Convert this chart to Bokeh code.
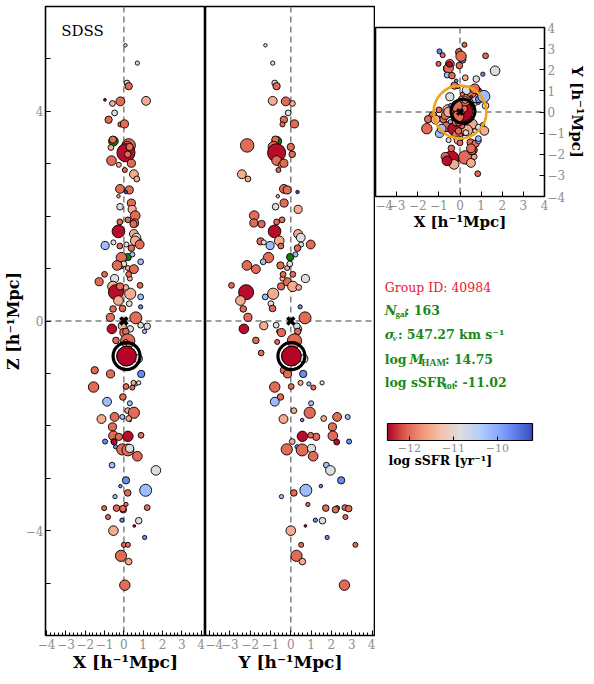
import numpy as np
from bokeh.plotting import figure
from bokeh.layouts import row, column
from bokeh.models import (Range1d, FixedTicker, Span, LinearColorMapper, ColorBar,
                          ColumnDataSource, CustomJSTickFormatter, Label)
from bokeh.core.properties import value
from bokeh.embed import file_html
from bokeh.resources import INLINE

NaN = float("nan")

# ---------------- data ----------------
gal_x = [0.08, 0.70, 0.16, 0.25, -0.98, -0.59, -0.18, 1.15, -0.48, -0.79,
         -0.18, 0.03, -0.54, -0.57, -0.67, 0.25, 0.18, 0.11, 0.30, -0.64,
         0.20, -0.26, 0.39, 0.05, 0.52, 0.67, -0.20, 0.28, -0.28, 0.10,
         -0.20, 0.39, 0.43, 0.59, 0.21, -0.21, 0.56, 0.50, -0.28, 0.52,
         0.74, 0.65, 0.59, 0.82, -0.97, -0.54, -0.21, 0.13, 0.39, 0.20,
         -0.13, 0.44, -0.18, 0.87, 0.21, 0.52, 0.00, -0.35, -1.00, -1.28,
         -0.48, 0.31, 0.25, 0.84, -0.57, -0.41, 0.33, 0.10, -0.20, -0.28,
         0.28, 0.87, 0.87, -0.56, -0.07, -0.70, 0.62, -0.62, -0.08, 0.33,
         0.87, 1.21, 1.07, -0.41, 0.00, 0.10, 0.20, 0.10, 0.14, 0.75,
         0.00, -1.51, -0.69, 0.90, -1.57, 0.11, 0.44, 0.61, 0.77, 0.50,
         -0.05, -0.87, 0.31, 0.20, 0.52, -1.16, -0.48, -0.08, 0.31, 0.25,
         -0.59, -0.97, -0.54, -0.26, 0.21, 0.89, -0.43, -0.52, -0.50, -0.08,
         0.21, 0.30, 0.70, -0.61, 1.66, 0.11, -0.18, 1.13, 0.20, -0.46,
         -1.02, -0.38, -0.03, 0.11, 1.21, -0.05, -0.82, -0.10, 0.77, 0.54,
         -0.54, 1.08, 0.00, 0.21, -0.15, 0.25, 0.05]

gal_y = [-1.25, -0.89, -0.79, -0.70, -0.25, 0.08, -0.25, -0.89, -0.13, -0.34,
         -0.41, 0.18, -0.69, -0.76, -0.80, -2.15, -0.84, -0.70, 0.00, -0.70,
         0.07, -0.50, -0.34, -0.61, -2.41, -2.11, -0.34, -0.18, -0.64, 0.33,
         -0.75, -0.33, 0.36, -1.80, -0.43, -0.70, -1.82, -1.44, -0.80, 0.36,
         -1.49, 0.49, -0.57, 0.98, -1.02, -1.33, -0.49, 0.51, 0.33, -0.03,
         -1.10, 0.23, -0.51, -1.36, -0.18, -1.72, -0.05, -2.16, 0.10, -0.18,
         0.72, -0.41, -0.38, -2.92, 0.10, -2.20, -0.87, 0.39, -0.48, -2.48,
         -0.98, -1.26, 0.46, -2.34, -0.90, -2.11, 0.70, -2.31, -1.33, 0.38,
         -0.72, 0.30, -0.60, -1.72, -0.46, 0.34, 0.18, -0.67, 0.03, 0.64,
         -1.46, -0.34, -0.16, 0.61, -0.79, 0.02, 1.11, 0.89, 1.54, 0.48,
         -0.51, -0.79, 1.00, 0.15, 0.93, -0.36, 2.28, 2.80, 0.56, 1.62,
         2.05, 2.87, 2.07, 1.25, 0.57, 0.98, 0.31, 0.07, 2.26, -0.20,
         0.56, 1.02, 1.10, 1.75, 1.95, 2.48, 1.48, 0.74, 0.15, -0.46,
         2.28, 1.72, 2.20, 0.84, 2.66, 2.85, 2.69, 1.21, 1.56, 0.72,
         0.00, 1.79, 0.51, 3.18, 0.28, 0.57, 2.64]

gal_z = [5.26, 4.92, 4.54, 4.48, 4.22, 4.15, 4.19, 4.20, 3.97, 3.84,
         3.75, 3.76, 3.43, 3.46, 3.31, 3.35, 3.32, 3.21, 3.32, 3.06,
         3.18, 2.98, 3.01, 2.88, 2.80, 2.71, 2.52, 2.50, 2.38, 2.46,
         2.18, 2.25, 2.13, 2.01, 1.93, 1.89, 1.87, 1.85, 1.71, 1.66,
         1.52, 1.59, 1.53, 1.46, 1.44, 1.50, 1.43, 1.46, 1.39, 1.22,
         1.21, 1.27, 1.06, 1.13, 1.01, 0.99, 1.09, 1.06, 0.89, 0.75,
         0.81, 0.81, 0.89, 0.68, 0.66, 0.55, 0.52, 0.64, 0.66, 0.39,
         0.33, 0.46, 0.27, 0.23, 0.24, 0.07, 0.06, -0.15, -0.09, -0.15,
         -0.08, -0.10, -0.20, -0.37, -0.22, -0.20, -0.38, -0.40, -0.67, -0.72,
         -0.61, -0.94, -1.01, -1.01, -1.26, -1.25, -1.27, -1.20, -1.18, -1.18,
         -1.45, -1.54, -1.57, -1.71, -1.75, -1.87, -1.83, -1.83, -1.89, -1.86,
         -2.02, -2.30, -2.19, -2.21, -2.20, -2.18, -2.40, -2.30, -2.31, -2.45,
         -2.46, -2.43, -2.58, -2.75, -2.85, -3.04, -3.15, -3.23, -3.28, -3.35,
         -3.57, -3.57, -3.60, -3.50, -3.56, -3.58, -3.74, -3.80, -3.81, -3.91,
         -4.00, -4.13, -4.27, -4.27, -4.48, -4.59, -5.04]

# log sSFR [yr^-1]; NaN = galaxy without sSFR (drawn green)
gal_log_ssfr = [-10.85, -10.85, -10.85, -12.0, -12.45, -11.5, -12.0, -11.5, -10.85, -12.0,
                -12.0, -12.0, NaN, -12.0, -11.5, -12.0, -12.0, -12.45, -12.0, -12.0,
                -12.0, -11.5, -12.0, -12.0, -11.5, -11.5, -12.0, -12.0, -11.5, -9.25,
                -10.85, -12.0, -11.5, -12.0, -12.0, -12.0, -12.0, -12.0, -12.45, -11.5,
                -12.0, -10.85, -11.5, -12.0, -10.2, -10.85, -12.0, -10.85, -12.0, NaN,
                -12.0, -10.2, -12.0, -10.2, -11.5, -12.0, -10.85, -12.0, -12.0, -12.0,
                -10.85, -11.5, -12.0, -12.0, -11.5, -12.45, -11.5, -11.5, -12.0, -11.5,
                -10.85, -10.2, -9.7, -12.0, -12.0, -12.0, -12.0, -12.45, -11.5, -10.85,
                -10.85, -10.85, -10.2, -12.0, -12.0, -12.0, -12.0, -12.0, -12.5, -10.85,
                -12.0, -12.0, -12.0, -9.7, -12.0, -12.0, -12.0, -10.2, -10.85, -11.5,
                -12.0, -10.2, -10.2, -11.5, -12.0, -11.5, -12.0, -10.2, -9.7, -11.5,
                -12.0, -9.7, -12.0, -12.0, -12.45, -12.0, -9.7, -11.5, -12.45, -12.0,
                -12.0, -10.85, -12.0, -10.2, -10.85, -9.7, -9.7, -10.2, -12.0, -10.2,
                -12.0, -12.0, -12.0, -12.0, -12.0, -12.0, -12.0, -9.7, -10.85, -12.45,
                -11.5, -9.7, -12.0, -12.0, -12.0, -11.5, -12.0]

# log stellar mass (sets marker size)
gal_log_mstar = [9.48, 9.61, 9.87, 10.12, 9.36, 9.87, 10.38, 10.38, 9.87, 10.12,
                 9.74, 10.25, 10.51, 10.12, 9.87, 11.15, 10.77, 11.92, 10.12, 10.51,
                 10.0, 9.74, 10.25, 9.74, 10.38, 9.87, 10.38, 10.25, 9.48, 9.48,
                 10.0, 10.25, 10.25, 10.51, 9.87, 9.87, 10.25, 10.12, 11.02, 10.38,
                 10.12, 10.38, 10.51, 10.38, 10.25, 9.74, 9.87, 9.74, 10.0, 10.12,
                 10.64, 9.74, 10.12, 9.87, 9.74, 10.38, 9.87, 10.51, 9.87, 10.25,
                 10.25, 9.74, 9.87, 9.87, 10.64, 11.41, 10.77, 9.87, 10.12, 10.51,
                 9.87, 9.87, 9.61, 10.0, 10.0, 10.25, 10.9, 10.51, 10.25, 10.0,
                 9.87, 10.0, 9.61, 10.0, 10.25, 10.0, 11.28, 9.74, 12.18, 10.25,
                 9.87, 10.12, 10.25, 10.12, 10.64, 9.87, 9.74, 9.61, 9.61, 9.74,
                 10.0, 10.38, 9.74, 9.87, 10.77, 10.38, 10.38, 9.74, 9.48, 9.87,
                 10.25, 9.74, 10.51, 10.12, 10.64, 9.87, 9.61, 9.87, 9.87, 10.77,
                 10.9, 10.25, 10.51, 9.87, 10.51, 10.12, 9.48, 10.9, 10.0, 9.61,
                 9.74, 10.0, 10.0, 9.61, 9.87, 10.0, 9.74, 9.61, 10.0, 9.36,
                 10.51, 9.61, 9.74, 9.74, 10.77, 10.0, 10.64]

central_idx = 88                 # brightest group galaxy
group_center = [0.0, 0.0, 0.0]   # x, y, z
group_radius = 1.25              # h^-1 Mpc (orange circle)
ssfr_low, ssfr_high = -12.5, -9.2
cbar_ticks = [-12, -11, -10]

group_id = 40984
n_gal = 163
sigma_v = 547.27
log_m_ham = 14.75
log_ssfr_tot = -11.02

# ---------------- styling ----------------
SERIF = "DejaVu Serif"
SUB = "Liberation Serif"
TICK_GREY = "#8e8e8e"
GREEN = "#198a19"

anchors = [(59, 76, 192), (98, 130, 234), (141, 176, 254), (184, 208, 249),
           (221, 221, 221), (245, 196, 173), (244, 154, 123), (222, 96, 77), (180, 4, 38)]


def build_palette(anc, n=256):
    a = np.array(anc, float)
    pos = np.linspace(0, 1, len(a))
    t = np.linspace(0, 1, n)
    cols = np.stack([np.interp(t, pos, a[:, k]) for k in range(3)], axis=1)
    return ["#%02x%02x%02x" % tuple(int(round(c)) for c in rgb) for rgb in cols]


palette = build_palette(anchors)[::-1]   # coolwarm reversed: red = low sSFR
mapper = LinearColorMapper(palette=palette, low=ssfr_low, high=ssfr_high, nan_color="#0a7d0a")


def msize(logm):
    return (np.asarray(logm, float) - 8.9) * 6.0


src = ColumnDataSource(dict(
    x=np.array(gal_x, float), y=np.array(gal_y, float), z=np.array(gal_z, float),
    ssfr=np.array(gal_log_ssfr, float), size=msize(gal_log_mstar),
))

minus_fmt = "return (tick < 0) ? ('\u2212' + Math.abs(tick)) : ('' + tick);"


def style_axis(ax, label, label_size="17px"):
    ax.axis_label = label
    ax.axis_label_text_font = SERIF
    ax.axis_label_text_font_style = "bold"
    ax.axis_label_text_font_size = label_size
    ax.axis_label_text_color = "black"
    ax.axis_label_standoff = 0
    ax.major_label_text_font = SERIF
    ax.major_label_text_font_size = "12px"
    ax.major_label_text_color = TICK_GREY
    ax.major_label_standoff = 3
    ax.axis_line_color = None
    ax.major_tick_in = 5
    ax.major_tick_out = 0
    ax.minor_tick_in = 3
    ax.minor_tick_out = 0
    ax.major_tick_line_color = "black"
    ax.minor_tick_line_color = "black"
    ax.formatter = CustomJSTickFormatter(code=minus_fmt)


def dashes(p):
    for dim in ("width", "height"):
        p.add_layout(Span(location=0, dimension=dim, line_color="#808080",
                          line_dash="6 4", line_width=1.5, level="underlay"))


fill = {"field": "ssfr", "transform": mapper}
PT = dict(line_color="black", line_width=0.9)
x_ticker_major = list(range(-4, 5))
x_ticker_minor = [round(v, 1) for v in np.arange(-4.2, 4.21, 0.2)]
ci = central_idx

# ---------------- panel 1: X-Z ----------------
p1 = figure(width=205, height=684, x_range=Range1d(-4.06, 4.23), y_range=Range1d(-6, 6),
            output_backend="svg", toolbar_location=None,
            min_border_left=37, min_border_right=0, min_border_top=6, min_border_bottom=49,
            outline_line_color="black", outline_line_width=1.6)
p1.grid.visible = False
style_axis(p1.xaxis[0], "X [h\u207b\u00b9Mpc]")
style_axis(p1.yaxis[0], "Z [h\u207b\u00b9Mpc]", "16px")
p1.yaxis.major_label_standoff = 2
p1.xaxis.ticker = FixedTicker(ticks=x_ticker_major, minor_ticks=x_ticker_minor)
p1.yaxis.ticker = FixedTicker(ticks=[-4, 0, 4], minor_ticks=list(range(-6, 7)))
p1.yaxis.minor_tick_in = 5
dashes(p1)
p1.scatter("x", "z", source=src, size="size", fill_color=fill, **PT)
p1.scatter([gal_x[ci]], [gal_z[ci]], size=float(msize(gal_log_mstar[ci])), fill_color=palette[0], **PT)
p1.scatter([gal_x[ci]], [gal_z[ci]], size=27, fill_color=None, line_color="black", line_width=3.2)
p1.scatter([group_center[0]], [group_center[2]], marker="x", size=10, line_width=3.5, line_color="black")
p1.add_layout(Label(x=-3.25, y=5.53, text="SDSS", text_font=SERIF, text_font_size="15px",
                    text_baseline="middle", text_color="black"))

# ---------------- panel 2: Y-Z ----------------
p2 = figure(width=170, height=684, x_range=Range1d(-4.2, 4.17), y_range=Range1d(-6, 6),
            output_backend="svg", toolbar_location=None,
            min_border_left=0, min_border_right=0, min_border_top=6, min_border_bottom=49,
            outline_line_color="black", outline_line_width=1.6)
p2.grid.visible = False
style_axis(p2.xaxis[0], "Y [h\u207b\u00b9Mpc]")
p2.yaxis.visible = False
p2.xaxis.ticker = FixedTicker(ticks=x_ticker_major, minor_ticks=x_ticker_minor)
dashes(p2)
p2.scatter("y", "z", source=src, size="size", fill_color=fill, **PT)
p2.scatter([gal_y[ci]], [gal_z[ci]], size=float(msize(gal_log_mstar[ci])), fill_color=palette[0], **PT)
p2.scatter([gal_y[ci]], [gal_z[ci]], size=27, fill_color=None, line_color="black", line_width=3.2)
p2.scatter([group_center[1]], [group_center[2]], marker="x", size=10, line_width=3.5, line_color="black")

# ---------------- panel 3: X-Y inset ----------------
p3 = figure(width=219, height=240, x_range=Range1d(-4, 4), y_range=Range1d(-4, 4),
            y_axis_location="right", output_backend="svg", toolbar_location=None,
            min_border_left=0, min_border_right=50, min_border_top=27, min_border_bottom=44,
            outline_line_color="black", outline_line_width=1.6)
p3.grid.visible = False
style_axis(p3.xaxis[0], "X [h\u207b\u00b9Mpc]", "15px")
style_axis(p3.yaxis[0], "Y [h\u207b\u00b9Mpc]", "15px")
p3.xaxis.ticker = FixedTicker(ticks=x_ticker_major)
p3.yaxis.ticker = FixedTicker(ticks=x_ticker_major)
dashes(p3)
p3.scatter("x", "y", source=src, size="size", fill_color=fill, **PT)
p3.circle(x=[group_center[0]], y=[group_center[1]], radius=group_radius, fill_color=None,
          line_color="#f2a31b", line_width=2.6)
p3.scatter([gal_x[ci]], [gal_y[ci]], size=24, fill_color=None, line_color="black", line_width=3.0)
p3.scatter([group_center[0]], [group_center[1]], marker="x", size=8, line_width=3, line_color="black")

# ---------------- panel 4: info + colour bar ----------------
p4 = figure(width=219, height=444, x_range=Range1d(0, 219), y_range=Range1d(444, 0),
            x_axis_type=None, y_axis_type=None, output_backend="svg", toolbar_location=None,
            min_border=0, outline_line_color=None)
p4.grid.visible = False


def txt(x, y, s, size="12.5px", color=GREEN, style="bold", font=SERIF,
        align="left", baseline="alphabetic"):
    p4.text(x=[x], y=[y], text=[s], text_font=value(font), text_font_size=size,
            text_color=color, text_font_style=style, text_align=align, text_baseline=baseline)


txt(12, 47, f"Group ID: {group_id}", color="#e8222a", style="normal")
txt(12, 70, "N", size="13px", style="bold italic")
txt(26, 73, "gal", size="9px", font=SUB)
txt(38, 70, f": {n_gal}")
txt(12, 94, "\u03c3", size="13px", style="bold italic")
txt(22.5, 97, "v", size="9px", style="bold italic", font=SUB)
txt(29, 94, f": {sigma_v:.2f} km s\u207b\u00b9")
txt(12, 119, "log")
txt(44, 119, "M", size="13px", style="bold italic")
txt(59.5, 122, "HAM", size="10px", font=SUB)
txt(90, 119, f": {log_m_ham:.2f}")
txt(12, 142, "log sSFR")
txt(88, 145, "tot", size="10px", font=SUB)
txt(101, 142, f": {log_ssfr_tot:.2f}")
txt(84, 220, "log sSFR [yr\u207b\u00b9]", color="black", align="center", baseline="middle")

cb = ColorBar(color_mapper=mapper, orientation="horizontal", width=145, height=17,
              location=(12, 230), padding=0, title=None,
              ticker=FixedTicker(ticks=cbar_ticks), formatter=CustomJSTickFormatter(code=minus_fmt),
              major_label_text_font=SERIF, major_label_text_font_size="11px",
              major_label_text_color=TICK_GREY, label_standoff=3,
              major_tick_in=4, major_tick_out=0, major_tick_line_color="black",
              minor_tick_line_color=None, bar_line_color="black", bar_line_width=1.2,
              background_fill_color=None, border_line_color=None)
p4.add_layout(cb, "center")

layout = row(p1, p2, column(p3, p4))
open("out.html", "w").write(file_html(layout, INLINE))
